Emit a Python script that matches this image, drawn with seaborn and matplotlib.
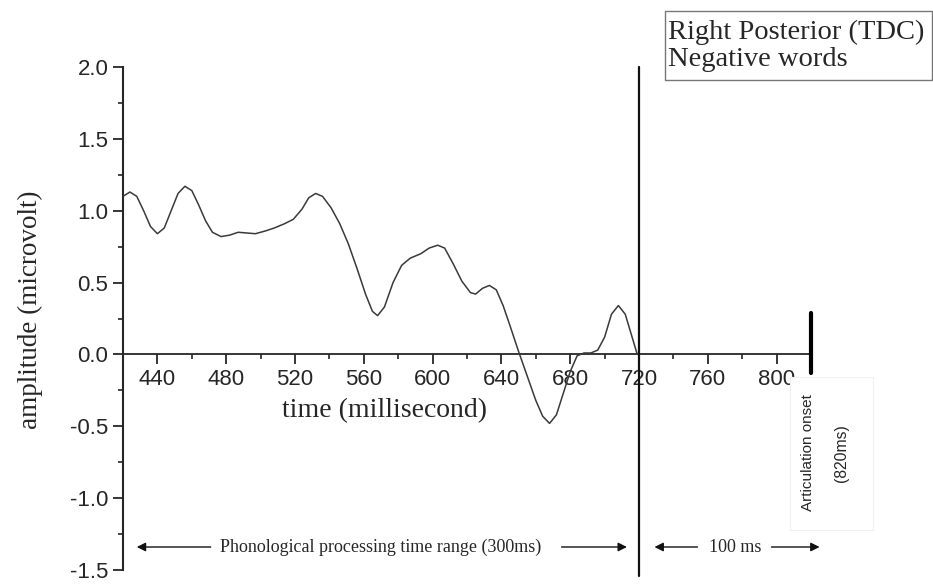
import numpy as np
import matplotlib
matplotlib.use("Agg")
import matplotlib.pyplot as plt
import seaborn as sns
from matplotlib.ticker import MultipleLocator, FormatStrFormatter
from matplotlib.patches import Rectangle

# ---------------------------------------------------------------------------
# DATA
# ---------------------------------------------------------------------------
time_ms = [420, 424, 428, 432, 436, 440, 444, 448, 452, 456, 460, 464, 468, 472,
           477, 482, 487, 492, 497, 503, 508, 514, 519, 524, 528, 532, 536, 541,
           546, 551, 556, 561, 565, 568, 572, 577, 582, 587, 593, 598, 603, 607,
           612, 617, 622, 625, 629, 633, 637, 641, 645, 650, 655, 660, 664, 668,
           672, 676, 680, 684, 688, 692, 696, 700, 704, 708, 712, 716, 719]
amplitude = [1.10, 1.13, 1.10, 1.00, 0.89, 0.84, 0.88, 1.00, 1.12, 1.17, 1.14, 1.04,
             0.93, 0.85, 0.82, 0.83, 0.85, 0.845, 0.84, 0.86, 0.88, 0.91, 0.94, 1.01,
             1.09, 1.12, 1.10, 1.02, 0.91, 0.77, 0.60, 0.42, 0.30, 0.27, 0.33, 0.50,
             0.62, 0.67, 0.70, 0.74, 0.76, 0.74, 0.63, 0.51, 0.43, 0.42, 0.46, 0.48,
             0.45, 0.34, 0.20, 0.02, -0.15, -0.32, -0.43, -0.48, -0.42, -0.27, -0.12,
             -0.01, 0.01, 0.01, 0.03, 0.12, 0.28, 0.34, 0.28, 0.12, 0.0]

x_ticks = [440, 480, 520, 560, 600, 640, 680, 720, 760, 800]
y_ticks = [-1.5, -1.0, -0.5, 0.0, 0.5, 1.0, 1.5, 2.0]

boundary_ms = 720
onset_ms = 820
onset_bar = (-0.13, 0.29)
arrow_y = -1.34
phon_arrows = [(471, 428), (675, 713)]   # (tail, head)
short_arrows = [(754, 729), (797, 825)]
phon_label_x = 570
short_label_x = 776

# ---------------------------------------------------------------------------
# PLOT
# ---------------------------------------------------------------------------
sns.set_style("ticks")
plt.rcParams["axes.unicode_minus"] = False
plt.rcParams["font.family"] = ["Liberation Sans", "DejaVu Sans"]

W, H = 933, 584
fig = plt.figure(figsize=(9.33, 5.84), dpi=100)
ax = fig.add_axes([123 / W, 1 - 570 / H, 688 / W, 503 / H])

sns.lineplot(x=time_ms, y=amplitude, ax=ax, color="#3a3a3a", linewidth=1.1, zorder=4)

ax.set_xlim(420, 820)
ax.set_ylim(-1.5, 2.0)

for s in ["top", "right"]:
    ax.spines[s].set_visible(False)
ax.spines["bottom"].set_position(("data", 0))
ax.spines["left"].set_linewidth(1.5)
ax.spines["bottom"].set_linewidth(1.3)

ax.set_xticks(x_ticks)
ax.xaxis.set_minor_locator(MultipleLocator(20))
ax.set_yticks(y_ticks)
ax.yaxis.set_minor_locator(MultipleLocator(0.25))
ax.yaxis.set_major_formatter(FormatStrFormatter("%.1f"))
ax.tick_params(which="major", length=7, width=1.3, labelsize=16, direction="out")
ax.tick_params(which="minor", length=3.5, width=1.2, direction="out")

# 720 ms boundary and 820 ms onset marker
ax.axvline(boundary_ms, ymin=-0.012, ymax=1, color="#111111", lw=1.6, zorder=5, clip_on=False)
ax.plot([onset_ms, onset_ms], list(onset_bar), color="k", lw=3, zorder=5, clip_on=False)

serif = ["Liberation Serif", "DejaVu Serif"]
ax.text(572, -0.39, "time (millisecond)", ha="center", va="center", fontsize=20, family=serif)
fig.text(30 / W, 1 - 310 / H, "amplitude (microvolt)", rotation=90, ha="center",
         va="center", fontsize=19.5, family=serif)

# title box (top right)
fig.patches.append(Rectangle((665 / W, 1 - 80 / H), 267 / W, 69 / H, transform=fig.transFigure,
                             fc="white", ec="#777777", lw=1, zorder=2))
fig.text(668 / W, 1 - 46 / H, "Right Posterior (TDC)\nNegative words", ha="left", va="center",
         fontsize=20.5, family=serif, linespacing=1.12, zorder=3)

# arrows for the two time ranges
arrow_kw = dict(arrowstyle="-|>", color="#111111", lw=1, mutation_scale=13, shrinkA=0, shrinkB=0)
for tail, head in phon_arrows + short_arrows:
    ax.annotate("", xy=(head, arrow_y), xytext=(tail, arrow_y), arrowprops=arrow_kw,
                annotation_clip=False)
ax.text(phon_label_x, arrow_y, "Phonological processing time range (300ms)", ha="center",
        va="center", fontsize=13, family=serif)
ax.text(short_label_x, arrow_y, "100 ms", ha="center", va="center", fontsize=13, family=serif)

# articulation onset label in a white box
fig.patches.append(Rectangle((790 / W, 1 - 530 / H), 83 / W, 153 / H,
                             transform=fig.transFigure, fc="white", ec="#f0f0f0", lw=0.8,
                             zorder=2))
fig.text(808 / W, 1 - 453 / H, "Articulation onset", rotation=90, ha="center", va="center",
         fontsize=11, zorder=3)
fig.text(842 / W, 1 - 453 / H, "(820ms)", rotation=90, ha="center", va="center",
         fontsize=11.3, zorder=3)

fig.savefig("out.png", dpi=100)
